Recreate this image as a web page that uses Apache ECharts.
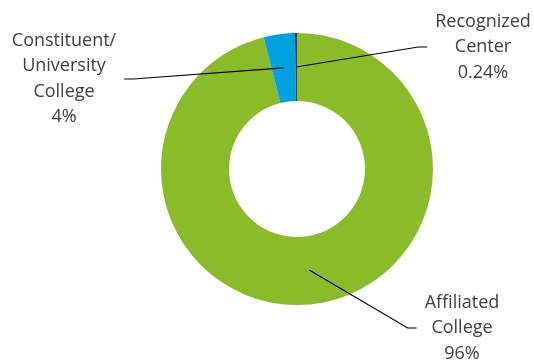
<!DOCTYPE html>
<html>
<head>
<meta charset="utf-8">
<script src="https://cdn.jsdelivr.net/npm/echarts@6/dist/echarts.min.js"></script>
<style>html,body{margin:0;padding:0;background:#fff;}#c{width:534px;height:361px;}</style>
</head>
<body>
<div id="c"></div>
<script>
const categories = ['Affiliated College', 'Constituent/University College', 'Recognized Center'];
const values = [96.06, 3.7, 0.24];
const labelTexts = ['Affiliated\nCollege\n96%', 'Constituent/\nUniversity\nCollege\n4%', 'Recognized\nCenter\n0.24%'];
const colors = ['#8ABB2A', '#00A1DE', '#2E3B8C'];
const labelX = [462, 64, 483];
const labelY = [328, 79, 47];

const chart = echarts.init(document.getElementById('c'), null, {renderer: 'canvas'});
const dataMain = categories.map((n, i) => ({name: n, value: values[i], itemStyle: {color: colors[i]}}));
const dataLabel = categories.map((n, i) => ({name: n, value: values[i]}));
chart.setOption({
  animation: false,
  series: [
    {
      type: 'pie', center: [297, 169], radius: [68, 136], startAngle: 90, clockwise: true,
      silent: true, label: {show: false}, labelLine: {show: false},
      itemStyle: {borderWidth: 0},
      emphasis: {disabled: true},
      data: dataMain
    },
    {
      type: 'pie', center: [297, 169], radius: [0, 102], startAngle: 90, clockwise: true,
      silent: true, z: 5, avoidLabelOverlap: false,
      itemStyle: {color: 'rgba(0,0,0,0)', borderWidth: 0},
      emphasis: {disabled: true},
      label: {
        show: true, position: 'outside',
        formatter: p => labelTexts[p.dataIndex],
        color: '#404040', fontSize: 18, fontFamily: 'Open Sans', lineHeight: 25.5,
        align: 'center', padding: [0, 8]
      },
      labelLine: {show: true, length: 10, length2: 9, smooth: false, lineStyle: {color: '#000', width: 1.2, opacity: 1}},
      labelLayout: function (p) {
        return {x: labelX[p.dataIndex], y: labelY[p.dataIndex], align: 'center', verticalAlign: 'middle'};
      },
      data: dataLabel
    }
  ]
});
</script>
</body>
</html>
